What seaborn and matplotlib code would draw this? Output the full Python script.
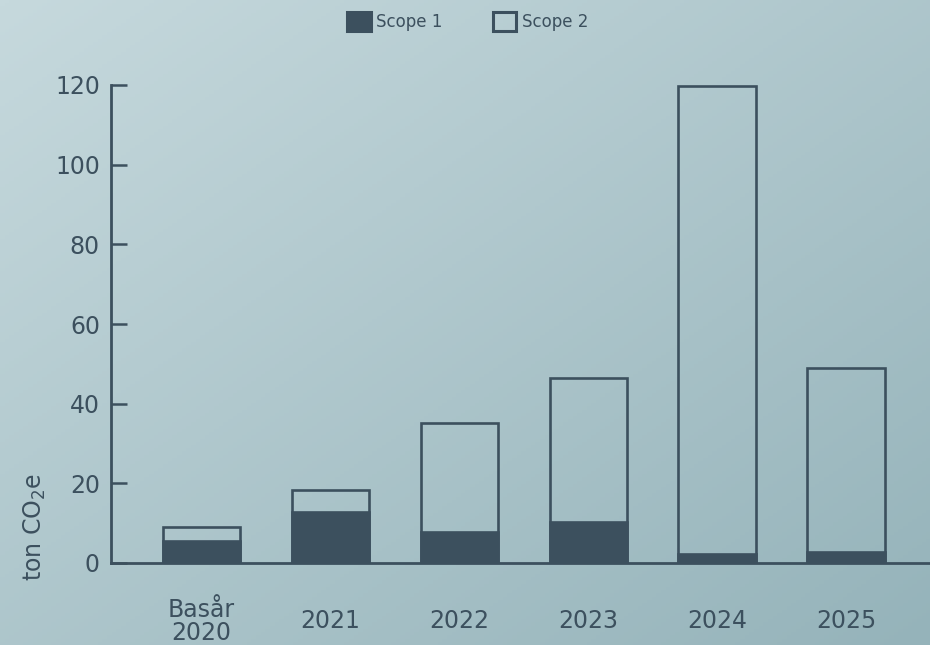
import numpy as np
import pandas as pd
import matplotlib
matplotlib.use("Agg")
import matplotlib.pyplot as plt
import seaborn as sns
from matplotlib.patches import Patch
from matplotlib.colors import LinearSegmentedColormap

# data (ton CO2e)
years = ["Basår\n2020", "2021", "2022", "2023", "2024", "2025"]
scope1 = [5.5, 12.7, 7.7, 10.2, 2.2, 2.8]
scope2 = [3.5, 5.6, 27.5, 36.3, 117.5, 46.2]

DARK = "#3c505e"

sns.set_theme(style="white")
plt.rcParams["font.family"] = ["DejaVu Sans"]

df = pd.DataFrame({"year": years, "scope1": scope1, "scope2": scope2})
df["total"] = df["scope1"] + df["scope2"]

fig = plt.figure(figsize=(9.3, 6.45), dpi=100)

# gradient background: light top-left, darker bottom-right
bg = fig.add_axes([0, 0, 1, 1], zorder=-10)
xx, yy = np.meshgrid(np.linspace(0, 1, 200), np.linspace(0, 1, 200))
grad = (xx + yy) / 2
cmap = LinearSegmentedColormap.from_list("bg", ["#c6d9dd", "#95b3ba"])
bg.imshow(grad, cmap=cmap, aspect="auto", extent=[0, 1, 0, 1], origin="upper")
bg.axis("off")

ax = fig.add_axes([111 / 930, 1 - 563 / 645, 819 / 930, 478 / 645])
ax.patch.set_alpha(0)

# total bar as outline (scope 2 on top), scope 1 filled
sns.barplot(data=df, x="year", y="total", ax=ax, fill=False, width=0.6,
            edgecolor=DARK, linewidth=1.9, err_kws={"linewidth": 0})
sns.barplot(data=df, x="year", y="scope1", ax=ax, color=DARK, width=0.6,
            edgecolor=DARK, linewidth=1.9, saturation=1, err_kws={"linewidth": 0})

ax.set_xlim(-0.70, 5.65)
ax.set_ylim(0, 120)
ax.set_yticks([0, 20, 40, 60, 80, 100, 120])

for s in ["top", "right"]:
    ax.spines[s].set_visible(False)
for s in ["left", "bottom"]:
    ax.spines[s].set_color(DARK)
    ax.spines[s].set_linewidth(2.0)

ax.tick_params(axis="y", direction="in", length=11.5, width=1.8, color=DARK,
               labelsize=17, labelcolor=DARK, pad=8, left=True)
ax.tick_params(axis="x", length=0, labelsize=17, labelcolor=DARK, pad=42)
for lbl in ax.get_xticklabels():
    lbl.set_verticalalignment("center")
    lbl.set_linespacing(0.95)

ax.set_xlabel("")
ax.set_ylabel("ton CO$_2$e", fontsize=17, color=DARK)
ax.yaxis.set_label_coords(-0.077, 0.075)

handles = [Patch(facecolor=DARK, edgecolor=DARK, linewidth=2.2, label="Scope 1"),
           Patch(facecolor="none", edgecolor=DARK, linewidth=2.2, label="Scope 2")]
fig.legend(handles=handles, loc="center", bbox_to_anchor=(0.503, 0.967), ncol=2,
           frameon=False, fontsize=12, handlelength=1.4, handleheight=1.4,
           handletextpad=0.35, columnspacing=3.0, labelcolor=DARK)

fig.savefig("out.png", dpi=100)
